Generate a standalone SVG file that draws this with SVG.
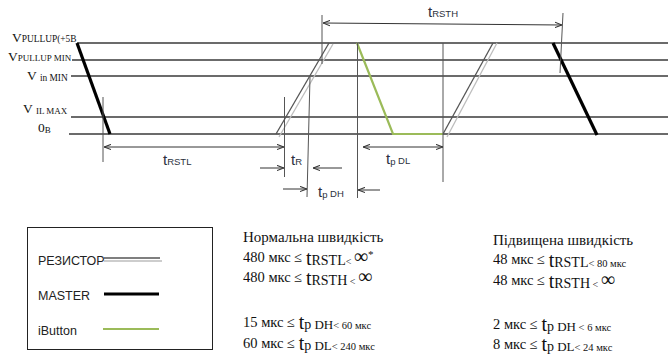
<svg xmlns="http://www.w3.org/2000/svg" width="671" height="357" viewBox="0 0 671 357">
<defs>
<marker id="ah" viewBox="0 0 8 8" refX="8" refY="4" markerWidth="7" markerHeight="7" markerUnits="userSpaceOnUse" orient="auto-start-reverse">
<path d="M0,1 L8,4 L0,7" fill="none" stroke="#333" stroke-width="1.2"/>
</marker>
</defs>
<style>
.lvl{stroke:#3a3a3a;stroke-width:1.3;fill:none}
.vl{stroke:#555;stroke-width:1;fill:none}
.arr{stroke:#333;stroke-width:1;fill:none}
.a2{marker-end:url(#ah);marker-start:url(#ah)}
.a1{marker-end:url(#ah)}
.rd{stroke:#555;stroke-width:1.3;fill:none}
.rl{stroke:#bdbdbd;stroke-width:1.3;fill:none}
.ms{stroke:#000;stroke-width:3.2;fill:none}
.ib{stroke:#9BBB59;stroke-width:2.2;fill:none}
.serif{font-family:"Liberation Serif","Times New Roman",serif;fill:#111}
.sans{font-family:"Liberation Sans",Arial,sans-serif;fill:#2b3140}
.leg{font-family:"Liberation Sans",Arial,sans-serif;fill:#222;font-size:12.5px}
</style>

<g id="levels">
<line class="lvl" x1="77" y1="43" x2="668" y2="43"/>
<line class="lvl" x1="72" y1="60" x2="668" y2="60"/>
<line class="lvl" x1="71" y1="76" x2="668" y2="76"/>
<line class="lvl" x1="71" y1="117" x2="668" y2="117"/>
<line class="lvl" x1="69" y1="134" x2="668" y2="134"/>
</g>

<g id="level-labels" class="serif">
<text x="12" y="42"><tspan font-size="13.5">V</tspan><tspan font-size="9.4">PULLUP(+5B</tspan></text>
<text x="8" y="61"><tspan font-size="13.5">V</tspan><tspan font-size="9">PULLUP MIN</tspan></text>
<text x="27" y="80"><tspan font-size="13.5">V </tspan><tspan font-size="9.4" dy="1">in MIN</tspan></text>
<text x="23" y="113"><tspan font-size="13.5">V </tspan><tspan font-size="9" dy="1">IL MAX</tspan></text>
<text x="38" y="132"><tspan font-size="13.5">0</tspan><tspan font-size="9" dy="1">B</tspan></text>
</g>

<g id="signals">
<line class="rl" x1="279" y1="137" x2="333" y2="44"/>
<line class="rd" x1="276" y1="134" x2="329" y2="43"/>
<line class="rl" x1="447" y1="137" x2="497" y2="43"/>
<line class="rd" x1="443" y1="134" x2="493" y2="43"/>
<line class="ms" x1="77" y1="43" x2="110" y2="134"/>
<line class="ms" x1="553" y1="43" x2="597" y2="135"/>
<polyline class="ib" points="357,43 393,134 443,134"/>
</g>

<g id="connectors">
<line class="vl" x1="103" y1="97" x2="103" y2="162"/>
<line class="vl" x1="284.5" y1="97" x2="284.5" y2="177"/>
<line class="vl" x1="310" y1="77" x2="307" y2="197"/>
<line class="vl" x1="357.5" y1="43" x2="357.5" y2="198"/>
<line class="vl" x1="443" y1="43" x2="443" y2="182"/>
<line class="vl" x1="322" y1="15" x2="322" y2="64"/>
<line class="vl" x1="563" y1="13" x2="560" y2="73"/>
<line class="arr a2" x1="104" y1="147" x2="284" y2="147"/>
<line class="arr a1" x1="260" y1="168" x2="284" y2="168"/>
<line class="arr a1" x1="342" y1="168" x2="313" y2="168"/>
<line class="arr a1" x1="283" y1="189" x2="307" y2="189"/>
<line class="arr a1" x1="380" y1="190" x2="358" y2="190"/>
<line class="arr a2" x1="363" y1="147" x2="443" y2="147"/>
<line class="arr a2" x1="323" y1="23" x2="562" y2="25"/>
</g>

<g id="timing-labels" class="sans">
<text x="163" y="165"><tspan font-size="15">t</tspan><tspan font-size="9.5">RSTL</tspan></text>
<text x="291" y="165"><tspan font-size="15">t</tspan><tspan font-size="9.5">R</tspan></text>
<text x="318" y="197"><tspan font-size="15">t</tspan><tspan font-size="9.5" dy="1">p </tspan><tspan font-size="9.5" dy="-1">DH</tspan></text>
<text x="386" y="164"><tspan font-size="15">t</tspan><tspan font-size="9.5" dy="1">p </tspan><tspan font-size="9.5" dy="-1">DL</tspan></text>
<text x="428" y="17"><tspan font-size="15">t</tspan><tspan font-size="9.5">RSTH</tspan></text>
</g>

<g id="legend">
<rect x="27.5" y="227.5" width="185" height="122" fill="none" stroke="#222" stroke-width="1"/>
<text class="leg" x="38" y="265">РЕЗИСТОР</text>
<line class="rd" x1="104" y1="258" x2="160" y2="258"/>
<line class="rl" x1="104" y1="261" x2="162" y2="261"/>
<text class="leg" x="38" y="300">MASTER</text>
<line class="ms" x1="104" y1="294" x2="159" y2="294" stroke-width="3.6"/>
<text class="leg" x="38" y="335">iButton</text>
<line class="ib" x1="103" y1="329" x2="159" y2="329"/>
</g>

<g id="normal-speed" class="serif">
<text x="243" y="242" font-size="15">Нормальна швидкість</text>
<text x="243" y="262" font-size="14.5">480 мкс ≤ <tspan font-size="20" dy="3">t</tspan><tspan font-size="14">RSTL</tspan><tspan font-size="10">&lt; </tspan><tspan font-size="20" dy="-2">∞</tspan><tspan font-size="11" dy="-5">*</tspan></text>
<text x="243" y="282" font-size="14.5">480 мкс ≤ <tspan font-size="20" dy="3">t</tspan><tspan font-size="14">RSTH</tspan><tspan font-size="10"> &lt; </tspan><tspan font-size="20" dy="-2">∞</tspan></text>
<text x="243" y="327" font-size="14.5">15 мкс ≤ <tspan font-size="20" dy="2">t</tspan><tspan font-size="14">p</tspan><tspan font-size="13"> DH</tspan><tspan font-size="10.5">&lt; 60 мкс</tspan></text>
<text x="243" y="348" font-size="14.5">60 мкс ≤ <tspan font-size="20" dy="2">t</tspan><tspan font-size="14">p</tspan><tspan font-size="13"> DL</tspan><tspan font-size="10.5">&lt; 240 мкс</tspan></text>
</g>

<g id="high-speed" class="serif">
<text x="493" y="245" font-size="15">Підвищена швидкість</text>
<text x="493" y="264" font-size="14.5">48 мкс ≤ <tspan font-size="20" dy="3">t</tspan><tspan font-size="14">RSTL</tspan><tspan font-size="10.5">&lt; 80 мкс</tspan></text>
<text x="493" y="285" font-size="14.5">48 мкс ≤ <tspan font-size="20" dy="3">t</tspan><tspan font-size="14">RSTH</tspan><tspan font-size="10"> &lt; </tspan><tspan font-size="20" dy="-2">∞</tspan></text>
<text x="493" y="329" font-size="14.5">2 мкс ≤ <tspan font-size="20" dy="2">t</tspan><tspan font-size="14">p</tspan><tspan font-size="13"> DH</tspan><tspan font-size="10.5"> &lt; 6 мкс</tspan></text>
<text x="493" y="349" font-size="14.5">8 мкс ≤ <tspan font-size="20" dy="2">t</tspan><tspan font-size="14">p</tspan><tspan font-size="13"> DL</tspan><tspan font-size="10.5">&lt; 24 мкс</tspan></text>
</g>
</svg>
